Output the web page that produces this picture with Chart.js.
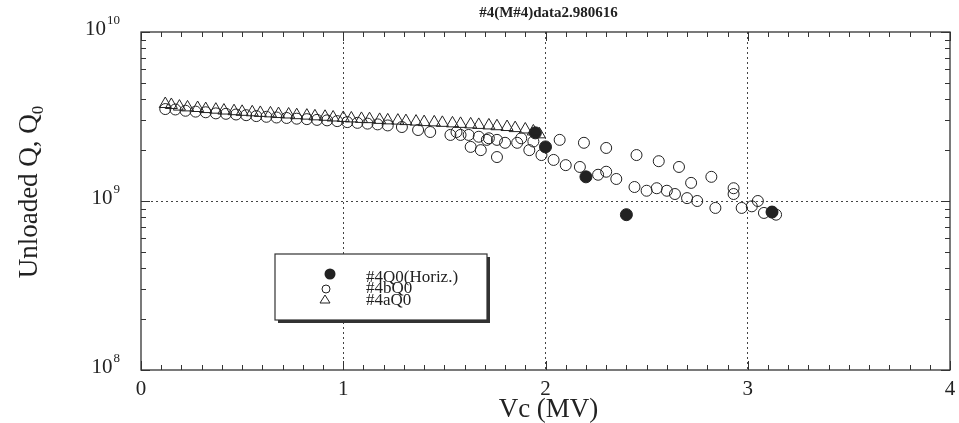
<!DOCTYPE html>
<html>
<head>
<meta charset="utf-8">
<script src="https://cdn.jsdelivr.net/npm/chart.js@4.4.1/dist/chart.umd.min.js"></script>
<style>
  html, body { margin: 0; padding: 0; background: #fff; }
  #wrap { width: 959px; height: 423px; }
</style>
</head>
<body>
<div id="wrap"><canvas id="qChart" width="959" height="423"></canvas></div>
<script>
// values, Q in units of 1e9
const horizX = [1.95, 2.0, 2.2, 2.4, 3.12];
const horizQ = [2.53, 2.09, 1.39, 0.83, 0.86];

const bX = [0.12, 0.17, 0.22, 0.27, 0.32, 0.37, 0.42, 0.47, 0.52, 0.57, 0.62, 0.67, 0.72, 0.77, 0.82, 0.87, 0.92, 0.97, 1.02, 1.07, 1.12, 1.17, 1.22,
  1.29, 1.37, 1.43, 1.53, 1.56, 1.58, 1.62, 1.63, 1.67, 1.68, 1.71, 1.72, 1.76, 1.76, 1.80, 1.86, 1.88, 1.92, 1.94, 1.98,
  2.04, 2.07, 2.10, 2.17, 2.19, 2.26, 2.30, 2.30, 2.35, 2.44, 2.45, 2.50, 2.55, 2.56, 2.60, 2.64, 2.66, 2.70, 2.72, 2.75,
  2.82, 2.84, 2.93, 2.93, 2.97, 3.02, 3.05, 3.08, 3.12, 3.14];
const bQ = [3.5, 3.48, 3.42, 3.38, 3.35, 3.3, 3.28, 3.25, 3.22, 3.18, 3.15, 3.12, 3.1, 3.07, 3.05, 3.02, 3.0, 2.97, 2.93, 2.9, 2.87, 2.84, 2.8,
  2.74, 2.63, 2.56, 2.46, 2.56, 2.46, 2.46, 2.09, 2.40, 2.0, 2.30, 2.35, 2.30, 1.82, 2.21, 2.21, 2.35, 2.0, 2.25, 1.87,
  1.75, 2.30, 1.63, 1.59, 2.21, 1.43, 1.49, 2.06, 1.35, 1.21, 1.87, 1.15, 1.19, 1.72, 1.15, 1.10, 1.59, 1.04, 1.28, 1.0,
  1.39, 0.91, 1.19, 1.10, 0.91, 0.93, 1.0, 0.85, 0.86, 0.83];

const aX = [0.12, 0.15, 0.19, 0.23, 0.28, 0.32, 0.37, 0.41, 0.46, 0.5, 0.55, 0.59, 0.64, 0.68, 0.73, 0.77, 0.82, 0.86, 0.91, 0.95, 1.0,
  1.04, 1.09, 1.13, 1.18, 1.22, 1.27, 1.31, 1.36, 1.4, 1.45, 1.49, 1.54, 1.58, 1.63, 1.67, 1.72, 1.76, 1.81, 1.85, 1.9, 1.94, 1.97];
const aQ = [3.75, 3.7, 3.62, 3.58, 3.55, 3.5, 3.47, 3.43, 3.4, 3.37, 3.35, 3.32, 3.3, 3.27, 3.25, 3.22, 3.2, 3.17, 3.15, 3.12, 3.1,
  3.08, 3.06, 3.05, 3.02, 3.0, 2.99, 2.97, 2.95, 2.93, 2.92, 2.9, 2.88, 2.86, 2.84, 2.82, 2.8, 2.77, 2.74, 2.7, 2.65, 2.58, 2.48];

const xTickLabels = ["0", "1", "2", "3", "4"];
const yTickExps = [8, 9, 10];
const legendLabels = ["#4Q0(Horiz.)", "#4bQ0", "#4aQ0"];

const ink = "#222";
const serif = "'Liberation Serif', 'DejaVu Serif', serif";

function toPoints(xs, qs) {
  return xs.map((x, i) => ({ x: x, y: qs[i] * 1e9 }));
}

const framePlugin = {
  id: "frame",
  afterDraw(chart) {
    const ctx = chart.ctx;
    const a = chart.chartArea;
    const xs = chart.scales.x, ys = chart.scales.y;
    ctx.save();
    ctx.strokeStyle = "#333";
    ctx.lineWidth = 1.3;
    ctx.strokeRect(a.left, a.top, a.right - a.left, a.bottom - a.top);

    // inner ticks, x
    ctx.lineWidth = 1;
    for (let i = 0; i <= 40; i++) {
      const px = Math.round(xs.getPixelForValue(i / 10)) + 0.5;
      const len = i % 10 === 0 ? 9 : 5;
      ctx.beginPath();
      ctx.moveTo(px, a.bottom); ctx.lineTo(px, a.bottom - len);
      ctx.moveTo(px, a.top); ctx.lineTo(px, a.top + len);
      ctx.stroke();
    }
    // inner ticks, y (log)
    for (let e = 8; e <= 10; e++) {
      for (let m = 1; m <= 9; m++) {
        if (e === 10 && m > 1) break;
        const py = Math.round(ys.getPixelForValue(m * Math.pow(10, e))) + 0.5;
        const len = m === 1 ? 9 : 5;
        ctx.beginPath();
        ctx.moveTo(a.left, py); ctx.lineTo(a.left + len, py);
        ctx.moveTo(a.right, py); ctx.lineTo(a.right - len, py);
        ctx.stroke();
      }
    }

    ctx.fillStyle = ink;
    // x tick labels
    ctx.font = "21px " + serif;
    ctx.textAlign = "center";
    ctx.textBaseline = "alphabetic";
    xTickLabels.forEach((t, i) => {
      ctx.fillText(t, xs.getPixelForValue(i), a.bottom + 25);
    });
    // y tick labels with superscripts
    yTickExps.forEach(e => {
      const py = ys.getPixelForValue(Math.pow(10, e));
      const base = py + 3;
      const sup = String(e);
      ctx.textAlign = "left";
      ctx.font = "13px " + serif;
      const supW = ctx.measureText(sup).width;
      ctx.font = "21px " + serif;
      const baseW = ctx.measureText("10").width;
      const x0 = a.left - 22 - supW - baseW;
      ctx.fillText("10", x0, base);
      ctx.font = "13px " + serif;
      ctx.fillText(sup, x0 + baseW + 1, base - 11);
    });

    // axis titles
    ctx.font = "27px " + serif;
    ctx.textAlign = "center";
    ctx.fillText("Vc (MV)", (a.left + a.right) / 2 + 3, a.bottom + 47);

    ctx.save();
    ctx.translate(37, 192);
    ctx.rotate(-Math.PI / 2);
    ctx.font = "27px " + serif;
    const mainT = "Unloaded Q, Q";
    const wMain = ctx.measureText(mainT).width;
    ctx.font = "17px " + serif;
    const wSub = ctx.measureText("0").width;
    const sx = -(wMain + wSub) / 2;
    ctx.font = "27px " + serif;
    ctx.textAlign = "left";
    ctx.fillText(mainT, sx, 0);
    ctx.font = "17px " + serif;
    ctx.fillText("0", sx + wMain, 6);
    ctx.restore();

    // title
    ctx.font = "bold 15px " + serif;
    ctx.textAlign = "center";
    ctx.fillText("#4(M#4)data2.980616", (a.left + a.right) / 2 + 3, 17);

    // legend box with drop shadow
    const bx = 275, by = 254, bw = 212, bh = 66;
    ctx.fillStyle = "#333";
    ctx.fillRect(bx + 3, by + 3, bw, bh);
    ctx.fillStyle = "#fff";
    ctx.fillRect(bx, by, bw, bh);
    ctx.strokeStyle = "#333";
    ctx.lineWidth = 1.2;
    ctx.strokeRect(bx, by, bw, bh);

    ctx.fillStyle = ink;
    ctx.strokeStyle = ink;
    ctx.lineWidth = 1;
    ctx.beginPath(); ctx.arc(330, 274, 5.5, 0, Math.PI * 2); ctx.fill();
    ctx.beginPath(); ctx.arc(326, 289, 4, 0, Math.PI * 2); ctx.stroke();
    ctx.beginPath();
    ctx.moveTo(325, 295); ctx.lineTo(330, 303); ctx.lineTo(320, 303); ctx.closePath(); ctx.stroke();

    ctx.font = "17px " + serif;
    ctx.textAlign = "left";
    ctx.fillText(legendLabels[0], 366, 282);
    ctx.fillText(legendLabels[1], 366, 293);
    ctx.fillText(legendLabels[2], 366, 305);
    ctx.restore();
  }
};

new Chart(document.getElementById("qChart"), {
  type: "scatter",
  data: {
    datasets: [
      {
        label: legendLabels[1],
        data: toPoints(bX, bQ),
        pointStyle: "circle",
        pointRadius: 5.5,
        borderColor: ink,
        backgroundColor: "rgba(0,0,0,0)",
        borderWidth: 1
      },
      {
        label: legendLabels[2],
        data: toPoints(aX, aQ),
        pointStyle: "triangle",
        pointRadius: 7,
        borderColor: ink,
        backgroundColor: "rgba(0,0,0,0)",
        borderWidth: 1
      },
      {
        label: legendLabels[0],
        data: toPoints(horizX, horizQ),
        pointStyle: "circle",
        pointRadius: 6,
        borderColor: ink,
        backgroundColor: ink,
        borderWidth: 1
      }
    ]
  },
  options: {
    responsive: false,
    animation: false,
    layout: { padding: { left: 141, right: 9, top: 32, bottom: 53 } },
    plugins: { legend: { display: false }, tooltip: { enabled: false } },
    scales: {
      x: {
        type: "linear",
        min: 0, max: 4,
        ticks: { display: false, stepSize: 1 },
        border: { display: false, dash: [2, 3] },
        grid: {
          drawTicks: false,
          color: c => (c.tick.value > 0 && c.tick.value < 4) ? "#444" : "rgba(0,0,0,0)",
          lineWidth: 1
        }
      },
      y: {
        type: "logarithmic",
        min: 1e8, max: 1e10,
        afterBuildTicks: s => { s.ticks = yTickExps.map(e => ({ value: Math.pow(10, e) })); },
        ticks: { display: false },
        border: { display: false, dash: [2, 3] },
        grid: {
          drawTicks: false,
          color: c => c.tick.value === 1e9 ? "#444" : "rgba(0,0,0,0)",
          lineWidth: 1
        }
      }
    }
  },
  plugins: [framePlugin]
});
</script>
</body>
</html>
